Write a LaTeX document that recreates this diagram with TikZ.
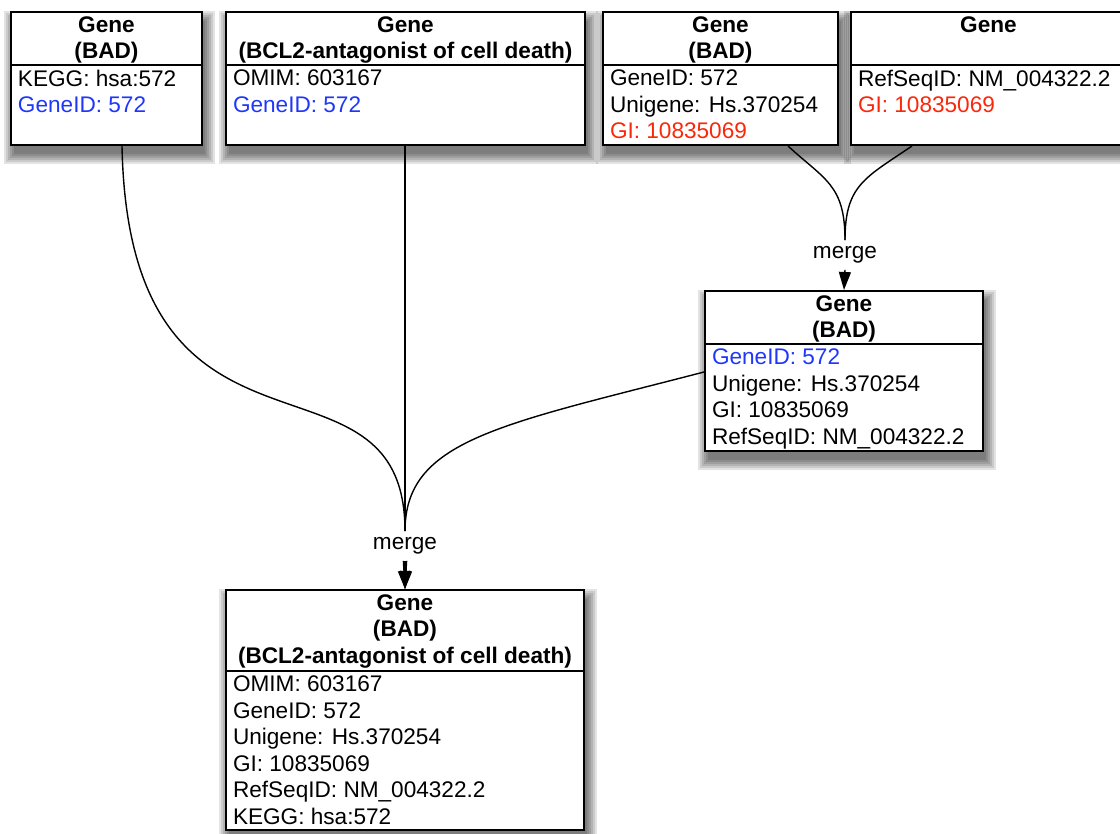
\documentclass[tikz,border=0pt]{standalone}
\usepackage{fontspec}
\setmainfont{Liberation Sans}
\usetikzlibrary{fit,calc,arrows.meta}
\definecolor{geneblue}{RGB}{30,55,250}
\definecolor{genered}{RGB}{250,40,10}
\tikzset{
  genebox/.style={draw, line width=1pt, fill=white, inner sep=0pt},
  boxshade/.style={fill=black, opacity=.11},
  headtext/.style={font=\fontsize{11.3pt}{13.25pt}\selectfont\bfseries, align=center, inner sep=0pt, anchor=north},
  bodytext/.style={font=\fontsize{11.3pt}{13.25pt}\selectfont, align=left, inner sep=0pt, anchor=north west},
  mergelabel/.style={font=\fontsize{11.3pt}{13.25pt}\selectfont, inner sep=3pt},
  link/.style={line width=0.7pt},
  mergearrow/.style={line width=0.7pt, -{Triangle[length=9pt,width=6pt]}}
}
% name, left, top, right, bottom, divider, header, body
\newcommand\genebox[8]{
\foreach \s in {0,2,...,10}
  \fill[boxshade] (#2+3-\s,#3+9-\s) rectangle (#4+3+\s,#5+9+\s);
\node[genebox, fit={(#2,#3) (#4,#5)}] (#1) {};
\draw[line width=0.75pt] (#1.west |- 0,#6) -- (#1.east |- 0,#6);
\node[headtext] at ($(#1.north)+(0,5.2)$) {#7};
\node[bodytext] at ($(#1.west |- 0,#6)+(7.6,4.4)$) {#8};
}
\begin{document}
\begin{tikzpicture}[x=0.5pt, y=-0.5pt]
	\useasboundingbox[fill=white] (0,0) rectangle (1120,834);
	\genebox{bad1}{11}{12}{202}{145}{65}{Gene\\(BAD)}
	  {KEGG: hsa:572\\\textcolor{geneblue}{GeneID: 572}}
	\genebox{bcl}{226}{12}{585}{145}{65}{Gene\\(BCL2-antagonist of cell death)}
	  {OMIM: 603167\\\textcolor{geneblue}{GeneID: 572}}
	\genebox{bad2}{603}{12}{838}{145}{65}{Gene\\(BAD)}
	  {GeneID: 572\\Unigene: Hs.370254\\\textcolor{genered}{GI: 10835069}}
	\genebox{refseq}{851}{12}{1126}{145}{65}{Gene}
	  {RefSeqID: NM\_004322.2\\\textcolor{genered}{GI: 10835069}}
	\genebox{bad3}{705}{291}{983}{451}{344}{Gene\\(BAD)}
	  {\textcolor{geneblue}{GeneID: 572}\\Unigene: Hs.370254\\GI: 10835069\\RefSeqID: NM\_004322.2}
	\genebox{fused}{226}{590}{584}{830}{671}{Gene\\(BAD)\\(BCL2-antagonist of cell death)}
	  {OMIM: 603167\\GeneID: 572\\Unigene: Hs.370254\\GI: 10835069\\RefSeqID: NM\_004322.2\\KEGG: hsa:572}
	% first merge
	\node[mergelabel] (lbl1) at (845,255) {merge};
	\draw[link] (bad2.south -| 788,0) .. controls (825,180) and (845,185) .. (lbl1.north);
	\draw[link] (refseq.south -| 912,0) .. controls (865,178) and (845,185) .. (lbl1.north);
	\draw[mergearrow] (lbl1.south) -- (bad3.north);
	% second merge
	\node[mergelabel] (lbl2) at (405,546) {merge};
	\draw[link] (bad1.south -| 122,0) .. controls (129,500) and (405,330) .. (lbl2.north);
	\draw[link] (bcl.south -| lbl2.north) -- (lbl2.north);
	\draw[link] (bad3.west |- 0,372) .. controls (500,425) and (405,440) .. (lbl2.north);
	\draw[mergearrow] ([xshift=-0.8pt]lbl2.south) -- (fused.north);
	\draw[mergearrow] (lbl2.south) -- (fused.north);
	\draw[mergearrow] ([xshift=0.8pt]lbl2.south) -- (fused.north);
\end{tikzpicture}
\end{document}
